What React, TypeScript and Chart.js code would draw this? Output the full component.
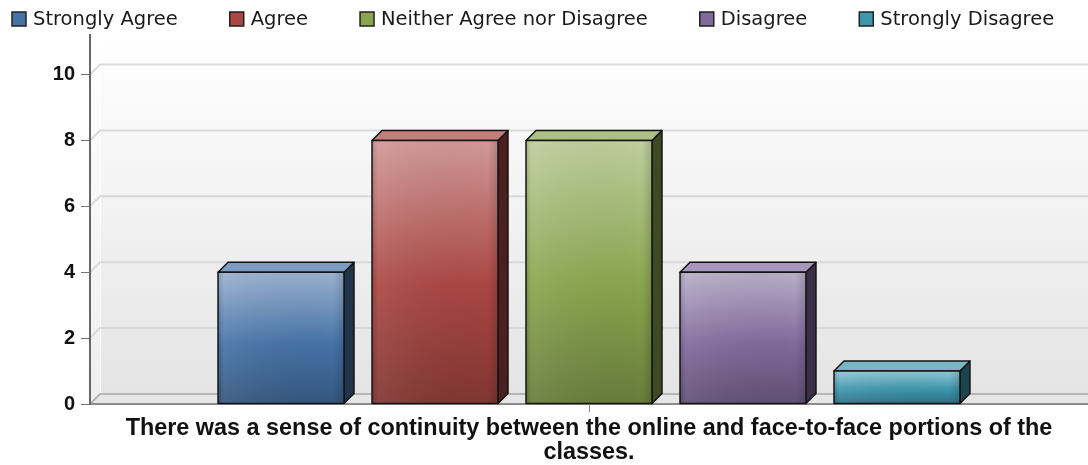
import React, { useEffect, useRef } from 'react';
import { Chart, registerables } from 'chart.js';

Chart.register(...registerables);

const categories = [[
  'There was a sense of continuity between the online and face-to-face portions of the',
  'classes.',
]];
const seriesNames = ['Strongly Agree', 'Agree', 'Neither Agree nor Disagree', 'Disagree', 'Strongly Disagree'];
const seriesValues = [4, 8, 8, 4, 1];
const seriesColors = ['#4572A7', '#AA4643', '#89A54E', '#80699B', '#3D96AE'];
const yTicks = [0, 2, 4, 6, 8, 10];
const yMax = 11.2;
const DEPTH = 10;

function hexToRgb(h: string): number[] {
  const s = h.replace('#', '');
  return [parseInt(s.slice(0, 2), 16), parseInt(s.slice(2, 4), 16), parseInt(s.slice(4, 6), 16)];
}
function mix(hex: string, target: number, t: number): string {
  const c = hexToRgb(hex).map((v) => Math.round(v + (target - v) * t));
  return `rgb(${c[0]},${c[1]},${c[2]})`;
}

const threeDPlugin = {
  id: 'threeD',
  beforeDraw(chart: any) {
    const ctx = chart.ctx;
    const { left, top, right, bottom } = chart.chartArea;
    ctx.save();
    ctx.fillStyle = '#ffffff';
    ctx.fillRect(0, 0, chart.width, chart.height);
    // back wall
    const g = ctx.createLinearGradient(0, top, 0, bottom - DEPTH);
    g.addColorStop(0, '#ffffff');
    g.addColorStop(1, '#e4e4e4');
    ctx.fillStyle = g;
    ctx.fillRect(left + DEPTH, top, right - left - DEPTH, bottom - DEPTH - top);
    // left wall
    const gl = ctx.createLinearGradient(0, top, 0, bottom);
    gl.addColorStop(0, '#ffffff');
    gl.addColorStop(1, '#eeeeee');
    ctx.fillStyle = gl;
    ctx.fillRect(left, top, DEPTH, bottom - top);
    // floor
    ctx.beginPath();
    ctx.moveTo(left, bottom);
    ctx.lineTo(left + DEPTH, bottom - DEPTH);
    ctx.lineTo(right, bottom - DEPTH);
    ctx.lineTo(right, bottom);
    ctx.closePath();
    ctx.fillStyle = '#e6e6e6';
    ctx.fill();
    // wall edge highlight
    ctx.strokeStyle = 'rgba(255,255,255,0.9)';
    ctx.lineWidth = 1;
    ctx.beginPath();
    ctx.moveTo(left + DEPTH + 0.5, top);
    ctx.lineTo(left + DEPTH + 0.5, bottom - DEPTH);
    ctx.stroke();
    // gridlines
    const ys = chart.scales.y;
    ctx.strokeStyle = '#d9d9d9';
    ctx.lineWidth = 2;
    yTicks.forEach((v) => {
      if (v === 0) return;
      const y = ys.getPixelForValue(v);
      ctx.beginPath();
      ctx.moveTo(left, y);
      ctx.lineTo(left + DEPTH, y - DEPTH);
      ctx.lineTo(right, y - DEPTH);
      ctx.stroke();
    });
    // floor back line
    ctx.strokeStyle = '#a6a6a6';
    ctx.lineWidth = 1.5;
    ctx.beginPath();
    ctx.moveTo(left, bottom);
    ctx.lineTo(left + DEPTH, bottom - DEPTH);
    ctx.lineTo(right, bottom - DEPTH);
    ctx.stroke();
    ctx.restore();
  },
  beforeDatasetsDraw(chart: any) {
    const ctx = chart.ctx;
    ctx.save();
    chart.data.datasets.forEach((ds: any, i: number) => {
      const meta = chart.getDatasetMeta(i);
      const base = seriesColors[i];
      meta.data.forEach((el: any) => {
        const { x, y, base: b, width } = el.getProps(['x', 'y', 'base', 'width'], true);
        const x1 = x - width / 2;
        const x2 = x + width / 2;
        const D = DEPTH;
        ctx.lineJoin = 'round';
        ctx.lineWidth = 1.5;
        ctx.strokeStyle = '#141414';
        // side
        ctx.beginPath();
        ctx.moveTo(x2, y);
        ctx.lineTo(x2 + D, y - D);
        ctx.lineTo(x2 + D, b - D);
        ctx.lineTo(x2, b);
        ctx.closePath();
        ctx.fillStyle = mix(base, 0, 0.55);
        ctx.fill();
        ctx.stroke();
        // top
        ctx.beginPath();
        ctx.moveTo(x1, y);
        ctx.lineTo(x1 + D, y - D);
        ctx.lineTo(x2 + D, y - D);
        ctx.lineTo(x2, y);
        ctx.closePath();
        ctx.fillStyle = mix(base, 255, 0.3);
        ctx.fill();
        ctx.stroke();
        // front
        const fg = ctx.createLinearGradient(0, y, 0, b);
        fg.addColorStop(0, mix(base, 255, 0.45));
        fg.addColorStop(0.55, base);
        fg.addColorStop(1, mix(base, 0, 0.25));
        ctx.fillStyle = fg;
        ctx.fillRect(x1, y, x2 - x1, b - y);
        const hg = ctx.createLinearGradient(x1, 0, x2, 0);
        hg.addColorStop(0, 'rgba(0,0,0,0.12)');
        hg.addColorStop(0.05, 'rgba(255,255,255,0.08)');
        hg.addColorStop(0.92, 'rgba(0,0,0,0)');
        hg.addColorStop(1, 'rgba(0,0,0,0.15)');
        ctx.fillStyle = hg;
        ctx.fillRect(x1, y, x2 - x1, b - y);
        ctx.strokeRect(x1, y, x2 - x1, b - y);
      });
    });
    ctx.restore();
    return false;
  },
  afterDraw(chart: any) {
    const ctx = chart.ctx;
    ctx.save();
    ctx.font = '19.5px "DejaVu Sans"';
    ctx.textBaseline = 'middle';
    let x = 12;
    chart.data.datasets.forEach((ds: any, i: number) => {
      ctx.fillStyle = seriesColors[i];
      ctx.fillRect(x, 12, 14, 14);
      ctx.strokeStyle = '#222';
      ctx.lineWidth = 1.5;
      ctx.strokeRect(x, 12, 14, 14);
      ctx.fillStyle = '#1a1a1a';
      ctx.fillText(ds.label, x + 21, 19.5);
      x += 21 + ctx.measureText(ds.label).width + 52;
    });
    ctx.restore();
  },
};

export default function App() {
  const ref = useRef<HTMLCanvasElement | null>(null);
  useEffect(() => {
    document.body.style.margin = '0';
    const canvas = ref.current;
    if (!canvas) return;
    const chart = new Chart(canvas, {
      type: 'bar',
      data: {
        labels: categories as any,
        datasets: seriesNames.map((name, i) => ({
          label: name,
          data: [seriesValues[i]],
          backgroundColor: seriesColors[i],
          categoryPercentage: 0.7715,
          barPercentage: 0.818,
        })),
      },
      options: {
        responsive: false,
        animation: false,
        events: [],
        layout: { padding: { top: 35, left: 0, right: 0, bottom: 0 } },
        plugins: { legend: { display: false }, tooltip: { enabled: false } },
        scales: {
          x: {
            grid: { display: true, drawOnChartArea: false, offset: false, tickLength: 8, color: '#888' },
            border: { display: true, color: '#8c8c8c', width: 2 },
            ticks: {
              font: { family: '"Liberation Sans", Arial, sans-serif', weight: 'bold', size: 23.4, lineHeight: 1.0 },
              color: '#111',
              padding: 5,
              maxRotation: 0,
              autoSkip: false,
            },
            afterFit: (s: any) => { s.height = 61; },
          },
          y: {
            min: 0,
            max: yMax,
            afterBuildTicks: (s: any) => { s.ticks = yTicks.map((v) => ({ value: v })); },
            grid: { display: true, drawOnChartArea: false, tickLength: 9, color: '#777' },
            border: { display: true, color: '#666', width: 2 },
            ticks: {
              font: { family: '"Liberation Sans", Arial, sans-serif', weight: 'bold', size: 20 },
              color: '#111',
              padding: 6,
            },
            afterFit: (s: any) => { s.width = 90; },
          },
        },
      },
      plugins: [threeDPlugin],
    });
    return () => chart.destroy();
  }, []);
  return <canvas ref={ref} width={1088} height={465} style={{ display: 'block' }} />;
}
